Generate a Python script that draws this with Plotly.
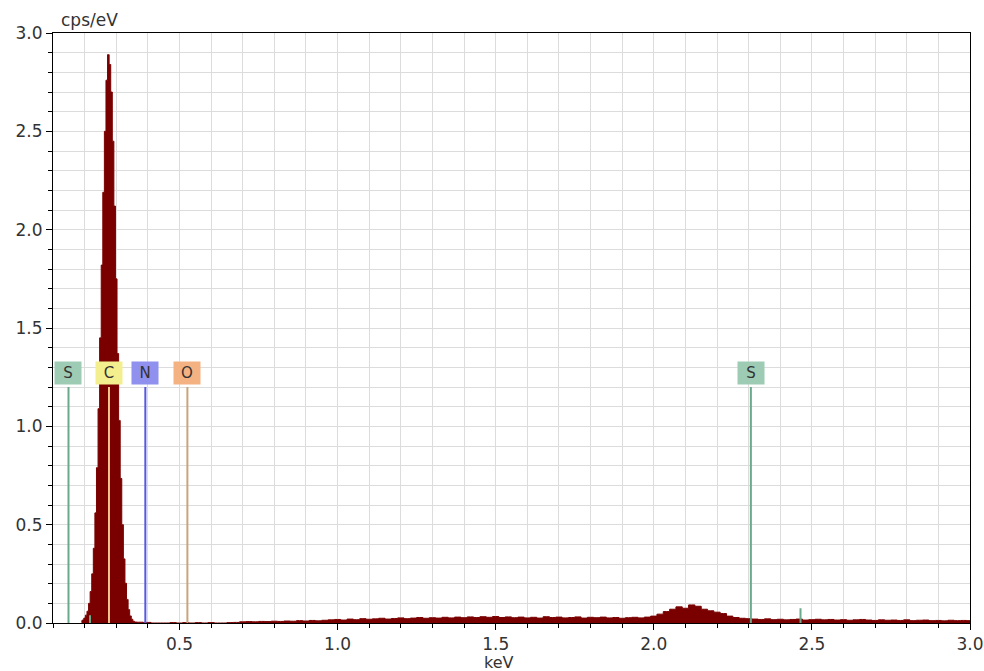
import plotly.graph_objects as go

# ---- Spectrum data (keV, cps/eV) ----
peak_kev = [0.190, 0.195, 0.200, 0.205, 0.210, 0.215, 0.220, 0.225, 0.230, 0.235,
            0.240, 0.245, 0.250, 0.255, 0.260, 0.265, 0.270, 0.275, 0.280, 0.285,
            0.290, 0.295, 0.300, 0.305, 0.310, 0.315, 0.320, 0.325, 0.330, 0.335,
            0.340, 0.345, 0.350, 0.355, 0.360]
peak_cps = [0.010, 0.015, 0.025, 0.040, 0.060, 0.100, 0.160, 0.250, 0.380, 0.560,
            0.790, 1.090, 1.450, 1.820, 2.190, 2.500, 2.760, 2.890, 2.840, 2.700,
            2.450, 2.120, 1.750, 1.370, 1.030, 0.735, 0.500, 0.326, 0.202, 0.120,
            0.068, 0.036, 0.019, 0.009, 0.005]

gap_kev = [0.37, 0.38, 0.39, 0.40, 0.42, 0.44, 0.46, 0.48, 0.50, 0.52, 0.54,
           0.56, 0.58, 0.60, 0.62, 0.64, 0.66, 0.68]
gap_cps = [0.004, 0.004, 0.003, 0.003, 0.0, 0.0, 0.0, 0.002, 0.0, 0.002, 0.0,
           0.002, 0.0, 0.002, 0.0, 0.0, 0.002, 0.003]

bg_kev = [round(0.70 + 0.02 * i, 2) for i in range(116)]
bg_cps = [
    # 0.70 - 0.98
    0.006, 0.007, 0.006, 0.008, 0.007, 0.009, 0.008, 0.010, 0.009, 0.012,
    0.010, 0.013, 0.011, 0.014, 0.016,
    # 1.00 - 1.48
    0.018, 0.015, 0.020, 0.017, 0.022, 0.019, 0.021, 0.024, 0.020, 0.023,
    0.026, 0.022, 0.025, 0.028, 0.024, 0.027, 0.025, 0.029, 0.026, 0.030,
    0.027, 0.031, 0.028, 0.032, 0.029,
    # 1.50 - 1.98
    0.033, 0.028, 0.031, 0.027, 0.030, 0.026, 0.029, 0.025, 0.032, 0.028,
    0.030, 0.026, 0.028, 0.031, 0.025, 0.029, 0.027, 0.030, 0.026, 0.028,
    0.024, 0.027, 0.029, 0.026, 0.030,
    # 2.00 - 2.28
    0.035, 0.045, 0.058, 0.070, 0.082, 0.075, 0.092, 0.085, 0.070, 0.062,
    0.055, 0.048, 0.035, 0.028, 0.024,
    # 2.30 - 2.98
    0.022, 0.020, 0.018, 0.021, 0.017, 0.019, 0.016, 0.018, 0.020, 0.015,
    0.017, 0.019, 0.016, 0.018, 0.015, 0.017, 0.014, 0.016, 0.018, 0.015,
    0.013, 0.016, 0.014, 0.015, 0.013, 0.016, 0.012, 0.014, 0.015, 0.012,
    0.013, 0.011, 0.014, 0.012, 0.013,
    # 3.00
    0.012,
]

# ---- Element markers ----
element_labels = ["S", "C", "N", "O", "S"]
element_kev = [0.149, 0.277, 0.392, 0.525, 2.307]
element_line_colors = ["#6aa98c", "#f3c58f", "#5757e3", "#c9a57c", "#6aa98c"]
element_box_colors = ["#9dcbb4", "#f3ef8e", "#9090ee", "#f4b283", "#9dcbb4"]
marker_height = 1.20
label_y = 1.27

minor_marker_kev = [0.217, 2.464]
minor_marker_cps = [0.04, 0.075]
minor_marker_color = "#6aa98c"

x_ticks = [0.5, 1.0, 1.5, 2.0, 2.5, 3.0]
y_ticks = [0.0, 0.5, 1.0, 1.5, 2.0, 2.5, 3.0]

spec_x = peak_kev + gap_kev + bg_kev
spec_y = peak_cps + gap_cps + bg_cps

fig = go.Figure()
fig.add_trace(go.Scatter(
    x=spec_x, y=spec_y, mode="lines", line=dict(color="#7a0000", width=1, shape="hvh"),
    fill="tozeroy", fillcolor="#7a0000", hoverinfo="skip", showlegend=False,
))

for xv, yv in zip(minor_marker_kev, minor_marker_cps):
    fig.add_shape(type="line", x0=xv, x1=xv, y0=0, y1=yv, xref="x", yref="y",
                  line=dict(color=minor_marker_color, width=2))

for lab, xv, lc, bc in zip(element_labels, element_kev, element_line_colors, element_box_colors):
    fig.add_shape(type="line", x0=xv, x1=xv, y0=0, y1=marker_height, xref="x", yref="y",
                  line=dict(color=lc, width=2))
    fig.add_annotation(x=xv, y=label_y, xref="x", yref="y", text=lab, showarrow=False,
                       bgcolor=bc, borderpad=2, width=22, height=18,
                       font=dict(family="DejaVu Sans", size=15, color="#333333"))

font = dict(family="DejaVu Sans", size=17, color="#333333")
grid = "#dcdcdc"

fig.update_xaxes(
    range=[0.1, 3.0], tickvals=x_ticks, ticktext=[f"{v:.1f}" for v in x_ticks],
    showgrid=True, gridcolor=grid, gridwidth=1,
    ticks="outside", ticklen=6, tickcolor="#000000",
    minor=dict(tick0=0, dtick=0.1, showgrid=True, gridcolor=grid, ticks="outside",
               ticklen=4, tickcolor="#000000"),
    showline=True, linecolor="#000000", linewidth=1, mirror=True,
    zeroline=False, tickfont=font, automargin=False,
)
fig.update_yaxes(
    range=[0, 3.0], tickvals=y_ticks, ticktext=[f"{v:.1f}" for v in y_ticks],
    showgrid=True, gridcolor=grid, gridwidth=1,
    ticks="outside", ticklen=6, tickcolor="#000000",
    minor=dict(tick0=0, dtick=0.1, showgrid=True, gridcolor=grid, ticks="outside",
               ticklen=4, tickcolor="#000000"),
    showline=True, linecolor="#000000", linewidth=1, mirror=True,
    zeroline=False, tickfont=font, automargin=False,
)

fig.add_annotation(text="cps/eV", xref="paper", yref="paper", x=0.006, y=1.0,
                   xanchor="left", yanchor="bottom", yshift=1, showarrow=False, font=font)
fig.add_annotation(text="keV", xref="paper", yref="paper", x=0.486, y=0,
                   xanchor="center", yanchor="top", yshift=-28, showarrow=False,
                   font=dict(family="DejaVu Sans", size=16, color="#333333"))

fig.update_layout(
    width=984, height=671, margin=dict(l=53, r=14, t=33, b=48, autoexpand=False),
    paper_bgcolor="#ffffff", plot_bgcolor="#ffffff",
)

fig.write_html("out.html")
